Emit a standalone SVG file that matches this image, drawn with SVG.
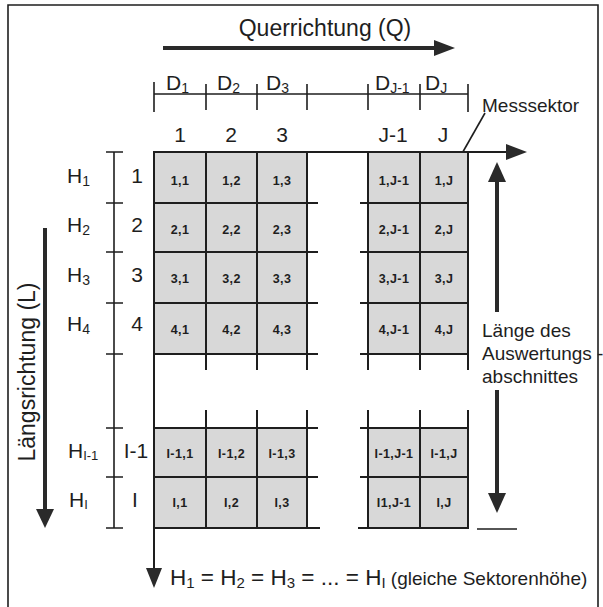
<svg xmlns="http://www.w3.org/2000/svg" width="603" height="607" viewBox="0 0 603 607">
<defs>
<style>
text{font-family:"Liberation Sans",Arial,sans-serif;fill:#1e1e1e}
.lbl{font-size:21px}
.cell{font-size:12.5px;font-weight:bold;text-anchor:middle;letter-spacing:0.4px}
.num{font-size:21px;text-anchor:middle}
.side{font-size:19px}
.g{stroke:#1e1e1e;stroke-width:2;fill:none}
.d{stroke:#1e1e1e;stroke-width:1.6;fill:none}
.c{fill:#d8d8d8;stroke:#1e1e1e;stroke-width:2}
.arr{stroke:#2a2a2a;stroke-width:4;fill:none}
.head{fill:#2a2a2a}
</style>
</defs>
<rect x="0" y="0" width="603" height="607" fill="#fff"/>
<g id="frame"><path class="d" d="M8,610 V5 H598 V610"/></g>

<g id="title">
<text x="325" y="36" font-size="23" text-anchor="middle">Querrichtung (Q)</text>
</g>

<g id="connectors">
<line class="arr" x1="163" y1="48" x2="436" y2="48"/>
<polygon class="head" points="455,48 434,40 434,56"/>
<line class="arr" x1="45" y1="228" x2="45" y2="512"/>
<polygon class="head" points="45,528 36,509 54,509"/>
<line class="arr" x1="497" y1="312" x2="497" y2="178"/>
<polygon class="head" points="497,162 488,182 506,182"/>
<line class="arr" x1="497" y1="390" x2="497" y2="496"/>
<polygon class="head" points="497,513 488,493 506,493"/>
<line class="d" x1="477" y1="529" x2="517" y2="529" stroke-width="2"/>
<line class="d" x1="485" y1="113" x2="460" y2="157"/>
<polygon class="head" points="452,169 456,151 468,158"/>
<line class="g" x1="154" y1="152" x2="510" y2="152"/>
<polygon class="head" points="527,152 506,144 506,160"/>
<line class="g" x1="154" y1="152" x2="154" y2="570"/>
<polygon class="head" points="154,588 146,568 162,568"/>
</g>

<g id="dimension-top">
<line class="d" x1="154" y1="94" x2="468" y2="94"/>
<path class="d" d="M154,82V112M206,84V110M257,84V110M307,84V110M368,84V110M420,84V110M468,84V112"/>
<text class="lbl" x="166" y="90">D<tspan font-size="14" dy="3">1</tspan></text>
<text class="lbl" x="217" y="90">D<tspan font-size="14" dy="3">2</tspan></text>
<text class="lbl" x="266" y="90">D<tspan font-size="14" dy="3">3</tspan></text>
<text class="lbl" x="375" y="90">D<tspan font-size="14" dy="3">J-1</tspan></text>
<text class="lbl" x="425" y="90">D<tspan font-size="14" dy="3">J</tspan></text>
<text class="num" x="180" y="142">1</text>
<text class="num" x="231" y="142">2</text>
<text class="num" x="282" y="142">3</text>
<text class="num" x="393" y="142">J-1</text>
<text class="num" x="443" y="142">J</text>
</g>

<g id="dimension-left">
<line class="d" x1="114" y1="152" x2="114" y2="528"/>
<path class="d" d="M106,152H123M106,203H123M106,252H123M106,303H123M106,354H123M106,428H123M106,477H123M106,528H123"/>
<text class="lbl" x="67" y="183">H<tspan font-size="14" dy="3">1</tspan></text>
<text class="lbl" x="67" y="232">H<tspan font-size="14" dy="3">2</tspan></text>
<text class="lbl" x="67" y="282">H<tspan font-size="14" dy="3">3</tspan></text>
<text class="lbl" x="67" y="331">H<tspan font-size="14" dy="3">4</tspan></text>
<text class="lbl" x="68" y="458" font-size="19">H<tspan font-size="13" dy="2">I-1</tspan></text>
<text class="lbl" x="69" y="507" font-size="18">H<tspan font-size="13" dy="2">I</tspan></text>
<text class="num" x="137" y="183">1</text>
<text class="num" x="137" y="232">2</text>
<text class="num" x="137" y="282">3</text>
<text class="num" x="137" y="331">4</text>
<text class="num" x="136" y="458">I-1</text>
<text class="num" x="135" y="507">I</text>
<text x="0" y="0" font-size="23" text-anchor="middle" transform="translate(35,372) rotate(-90)">Längsrichtung (L)</text>
</g>

<g id="block-a-top">
<rect class="c" x="154" y="152" width="52" height="51"/>
<rect class="c" x="206" y="152" width="51" height="51"/>
<rect class="c" x="257" y="152" width="50" height="51"/>
<rect class="c" x="154" y="203" width="52" height="49"/>
<rect class="c" x="206" y="203" width="51" height="49"/>
<rect class="c" x="257" y="203" width="50" height="49"/>
<rect class="c" x="154" y="252" width="52" height="51"/>
<rect class="c" x="206" y="252" width="51" height="51"/>
<rect class="c" x="257" y="252" width="50" height="51"/>
<rect class="c" x="154" y="303" width="52" height="51"/>
<rect class="c" x="206" y="303" width="51" height="51"/>
<rect class="c" x="257" y="303" width="50" height="51"/>
<path class="g" d="M307,203H318M307,252H318M307,303H318M307,354H318M206,354V370M257,354V370M307,354V370"/>
<text class="cell" x="180" y="185">1,1</text><text class="cell" x="231.5" y="185">1,2</text><text class="cell" x="282" y="185">1,3</text>
<text class="cell" x="180" y="234">2,1</text><text class="cell" x="231.5" y="234">2,2</text><text class="cell" x="282" y="234">2,3</text>
<text class="cell" x="180" y="283">3,1</text><text class="cell" x="231.5" y="283">3,2</text><text class="cell" x="282" y="283">3,3</text>
<text class="cell" x="180" y="334">4,1</text><text class="cell" x="231.5" y="334">4,2</text><text class="cell" x="282" y="334">4,3</text>
</g>

<g id="block-b-top">
<rect class="c" x="368" y="152" width="52" height="51"/>
<rect class="c" x="420" y="152" width="48" height="51"/>
<rect class="c" x="368" y="203" width="52" height="49"/>
<rect class="c" x="420" y="203" width="48" height="49"/>
<rect class="c" x="368" y="252" width="52" height="51"/>
<rect class="c" x="420" y="252" width="48" height="51"/>
<rect class="c" x="368" y="303" width="52" height="51"/>
<rect class="c" x="420" y="303" width="48" height="51"/>
<path class="g" d="M360,203H368M360,252H368M360,303H368M360,354H368M368,354V370M420,354V370M468,354V370"/>
<text class="cell" x="394" y="185">1,J-1</text><text class="cell" x="444" y="185">1,J</text>
<text class="cell" x="394" y="234">2,J-1</text><text class="cell" x="444" y="234">2,J</text>
<text class="cell" x="394" y="283">3,J-1</text><text class="cell" x="444" y="283">3,J</text>
<text class="cell" x="394" y="334">4,J-1</text><text class="cell" x="444" y="334">4,J</text>
</g>

<g id="block-a-bottom">
<rect class="c" x="154" y="428" width="52" height="49"/>
<rect class="c" x="206" y="428" width="51" height="49"/>
<rect class="c" x="257" y="428" width="50" height="49"/>
<rect class="c" x="154" y="477" width="52" height="51"/>
<rect class="c" x="206" y="477" width="51" height="51"/>
<rect class="c" x="257" y="477" width="50" height="51"/>
<path class="g" d="M307,428H318M307,477H318M307,528H320M206,410V428M257,410V428M307,410V428"/>
<text class="cell" x="180" y="458">I-1,1</text><text class="cell" x="231.5" y="458">I-1,2</text><text class="cell" x="282" y="458">I-1,3</text>
<text class="cell" x="180" y="507">I,1</text><text class="cell" x="231.5" y="507">I,2</text><text class="cell" x="282" y="507">I,3</text>
</g>

<g id="block-b-bottom">
<rect class="c" x="368" y="428" width="52" height="49"/>
<rect class="c" x="420" y="428" width="48" height="49"/>
<rect class="c" x="368" y="477" width="52" height="51"/>
<rect class="c" x="420" y="477" width="48" height="51"/>
<path class="g" d="M360,428H368M360,477H368M358,528H368M368,410V428M420,410V428M468,410V428"/>
<text class="cell" x="394" y="458">I-1,J-1</text><text class="cell" x="444" y="458">I-1,J</text>
<text class="cell" x="394" y="507">I1,J-1</text><text class="cell" x="444" y="507">I,J</text>
</g>

<g id="labels-right">
<text class="side" x="482" y="112">Messsektor</text>
<text class="side" x="482" y="337">Länge des</text>
<text class="side" x="482" y="360">Auswertungs -</text>
<text class="side" x="482" y="383">abschnittes</text>
</g>

<g id="formula">
<text x="170" y="585" font-size="22.5">H<tspan font-size="15" dy="3">1</tspan><tspan dy="-3"> = H</tspan><tspan font-size="15" dy="3">2</tspan><tspan dy="-3"> = H</tspan><tspan font-size="15" dy="3">3</tspan><tspan dy="-3"> = ... = H</tspan><tspan font-size="15" dy="3">I</tspan><tspan font-size="19" dy="-3"> (gleiche Sektorenhöhe)</tspan></text>
</g>
</svg>
